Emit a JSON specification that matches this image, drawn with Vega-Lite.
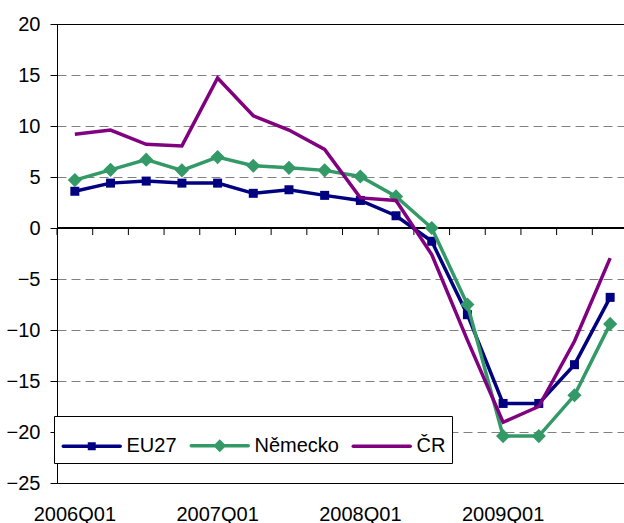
{
  "$schema": "https://vega.github.io/schema/vega-lite/v6.json",
  "width": 571,
  "height": 459,
  "autosize": {"type": "none"},
  "padding": {"left": 57, "top": 24, "right": 0, "bottom": 40},
  "background": "white",
  "config": {
    "view": {"stroke": "#000000", "strokeWidth": 1},
    "font": "Liberation Sans",
    "axis": {"labelFont": "Liberation Sans", "labelFontSize": 20, "labelColor": "#000000"}
  },
  "data": {
    "values": [
      {"q": "2006Q01", "s": "EU27", "v": 3.6}, {"q": "2006Q02", "s": "EU27", "v": 4.4}, {"q": "2006Q03", "s": "EU27", "v": 4.6}, {"q": "2006Q04", "s": "EU27", "v": 4.4},
      {"q": "2007Q01", "s": "EU27", "v": 4.4}, {"q": "2007Q02", "s": "EU27", "v": 3.4}, {"q": "2007Q03", "s": "EU27", "v": 3.75}, {"q": "2007Q04", "s": "EU27", "v": 3.2},
      {"q": "2008Q01", "s": "EU27", "v": 2.7}, {"q": "2008Q02", "s": "EU27", "v": 1.2}, {"q": "2008Q03", "s": "EU27", "v": -1.3}, {"q": "2008Q04", "s": "EU27", "v": -8.5},
      {"q": "2009Q01", "s": "EU27", "v": -17.2}, {"q": "2009Q02", "s": "EU27", "v": -17.2}, {"q": "2009Q03", "s": "EU27", "v": -13.4}, {"q": "2009Q04", "s": "EU27", "v": -6.8},
      {"q": "2006Q01", "s": "Německo", "v": 4.7}, {"q": "2006Q02", "s": "Německo", "v": 5.7}, {"q": "2006Q03", "s": "Německo", "v": 6.7}, {"q": "2006Q04", "s": "Německo", "v": 5.65},
      {"q": "2007Q01", "s": "Německo", "v": 6.95}, {"q": "2007Q02", "s": "Německo", "v": 6.1}, {"q": "2007Q03", "s": "Německo", "v": 5.9}, {"q": "2007Q04", "s": "Německo", "v": 5.65},
      {"q": "2008Q01", "s": "Německo", "v": 5.05}, {"q": "2008Q02", "s": "Německo", "v": 3.1}, {"q": "2008Q03", "s": "Německo", "v": 0.0}, {"q": "2008Q04", "s": "Německo", "v": -7.5},
      {"q": "2009Q01", "s": "Německo", "v": -20.4}, {"q": "2009Q02", "s": "Německo", "v": -20.4}, {"q": "2009Q03", "s": "Německo", "v": -16.4}, {"q": "2009Q04", "s": "Německo", "v": -9.4},
      {"q": "2006Q01", "s": "ČR", "v": 9.2}, {"q": "2006Q02", "s": "ČR", "v": 9.6}, {"q": "2006Q03", "s": "ČR", "v": 8.2}, {"q": "2006Q04", "s": "ČR", "v": 8.05},
      {"q": "2007Q01", "s": "ČR", "v": 14.7}, {"q": "2007Q02", "s": "ČR", "v": 11.0}, {"q": "2007Q03", "s": "ČR", "v": 9.6}, {"q": "2007Q04", "s": "ČR", "v": 7.7},
      {"q": "2008Q01", "s": "ČR", "v": 2.95}, {"q": "2008Q02", "s": "ČR", "v": 2.7}, {"q": "2008Q03", "s": "ČR", "v": -2.6}, {"q": "2008Q04", "s": "ČR", "v": -11.0},
      {"q": "2009Q01", "s": "ČR", "v": -19.05}, {"q": "2009Q02", "s": "ČR", "v": -17.5}, {"q": "2009Q03", "s": "ČR", "v": -11.1}, {"q": "2009Q04", "s": "ČR", "v": -2.95}
    ]
  },
  "encoding": {
    "x": {"field": "q", "type": "ordinal", "sort": null,
      "scale": {"type": "band", "paddingInner": 0, "paddingOuter": 0},
      "title": null,
      "axis": {"orient": "bottom", "values": ["2006Q01", "2007Q01", "2008Q01", "2009Q01"], "domain": false, "ticks": false, "grid": false, "labelPadding": 21, "labelAngle": 0}},
    "y": {"field": "v", "type": "quantitative",
      "scale": {"domain": [-25, 20], "nice": false, "zero": false},
      "title": null,
      "axis": {"orient": "left", "values": [-25, -20, -15, -10, -5, 0, 5, 10, 15, 20], "domainColor": "#000000", "tickColor": "#000000", "tickSize": 7, "labelPadding": 10,
        "grid": true, "gridColor": "#808080", "gridDash": [9, 5], "gridWidth": 1,
        "gridOpacity": {"condition": {"test": "datum.value == 20 || datum.value == -25 || datum.value == 0", "value": 0}, "value": 1}}}
  },
  "layer": [
    {
      "mark": {"type": "rule", "color": "#000000", "strokeWidth": 1},
      "encoding": {
        "x": null,
        "y": {"datum": 0}
      }
    },
    {
      "transform": [{"filter": "datum.s == 'EU27'"}],
      "mark": {"type": "rule", "color": "#000000", "strokeWidth": 1},
      "encoding": {
        "x": {"field": "q", "type": "ordinal", "sort": null, "bandPosition": 0},
        "y": {"datum": 0},
        "y2": {"datum": -0.69}
      }
    },
    {
      "transform": [{"filter": "datum.s == 'EU27'"}],
      "mark": {"type": "line", "color": "#000080", "strokeWidth": 3.5}
    },
    {
      "transform": [{"filter": "datum.s == 'EU27'"}],
      "mark": {"type": "point", "shape": "square", "filled": true, "color": "#000080", "size": 81, "opacity": 1}
    },
    {
      "transform": [{"filter": "datum.s == 'Německo'"}],
      "mark": {"type": "line", "color": "#339966", "strokeWidth": 3.5}
    },
    {
      "transform": [{"filter": "datum.s == 'Německo'"}],
      "mark": {"type": "point", "shape": "diamond", "filled": true, "color": "#339966", "size": 200, "opacity": 1}
    },
    {
      "transform": [{"filter": "datum.s == 'ČR'"}],
      "mark": {"type": "line", "color": "#800080", "strokeWidth": 3.5}
    },
    {
      "mark": {"type": "point", "opacity": 0, "size": 1849, "strokeWidth": 3.5},
      "encoding": {
        "fill": {"field": "s", "type": "nominal", "scale": {"domain": ["EU27", "Německo", "ČR"], "range": ["#000080", "#339966", "#800080"]},
          "legend": {"title": null, "orient": "none", "legendX": -3, "legendY": 392, "direction": "horizontal",
            "fillColor": "#ffffff", "strokeColor": "#000000", "padding": 6, "labelFontSize": 20, "labelFont": "Liberation Sans", "labelColor": "#000000",
            "labelOffset": 19.5, "columnPadding": 7, "symbolSize": 1849, "symbolStrokeWidth": 3.5, "symbolOpacity": 1,
            "encode": {"symbols": {"update": {"strokeCap": {"value": "round"}}}}}},
        "stroke": {"field": "s", "type": "nominal", "scale": {"domain": ["EU27", "Německo", "ČR"], "range": ["#000080", "#339966", "#800080"]}},
        "shape": {"field": "s", "type": "nominal", "scale": {"domain": ["EU27", "Německo", "ČR"],
          "range": ["M-0.942,0H1.709M0.279,-0.105H0.488V0.105H0.279Z", "M-0.942,0H1.709M0.384,-0.186L0.57,0L0.384,0.186L0.198,0Z", "M-0.942,0H1.709"]}}
      }
    }
  ]
}
